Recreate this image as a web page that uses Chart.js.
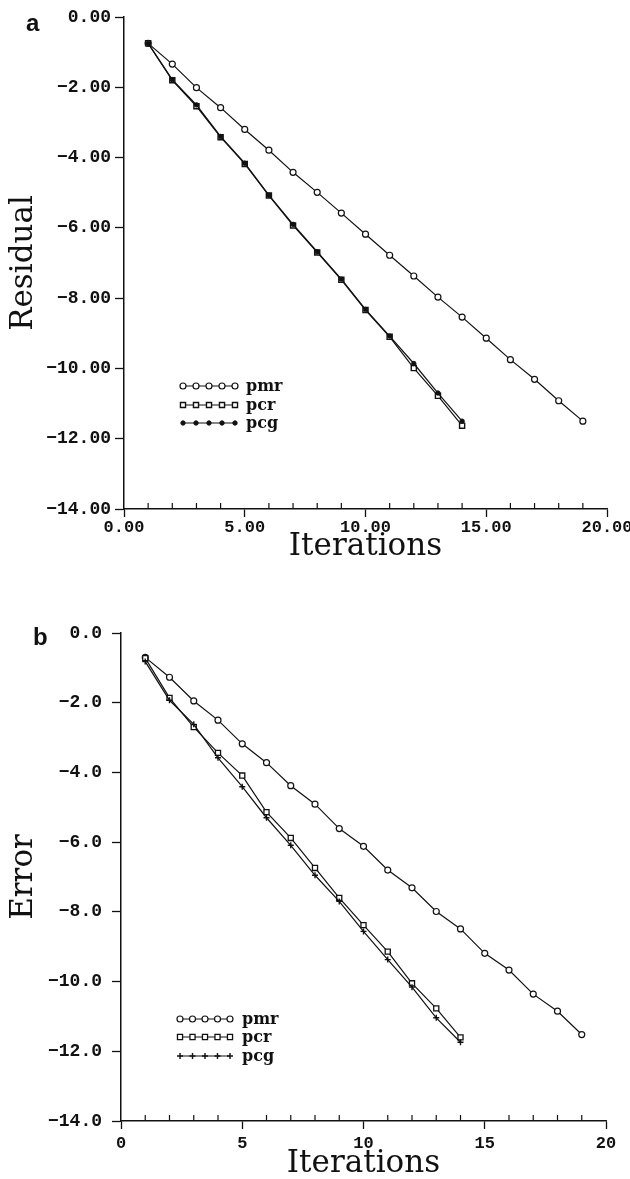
<!DOCTYPE html>
<html>
<head>
<meta charset="utf-8">
<title>Residual and error vs iterations</title>
<script src="https://cdn.jsdelivr.net/npm/chart.js@4.4.1/dist/chart.umd.min.js"></script>
<style>
  html, body { margin: 0; padding: 0; background: #fff; }
  canvas { display: block; }
</style>
</head>
<body>
<canvas id="chart-a" width="630" height="590"></canvas>
<canvas id="chart-b" width="630" height="589"></canvas>
<script>
/* Two stacked convergence plots: (a) residual, (b) error, log scale values
   for pmr / pcr / pcg against iteration count. */

var SERIES_NAMES = ["pmr", "pcr", "pcg"];
var ITER_PMR = [1, 2, 3, 4, 5, 6, 7, 8, 9, 10, 11, 12, 13, 14, 15, 16, 17, 18, 19];
var ITER_PC = [1, 2, 3, 4, 5, 6, 7, 8, 9, 10, 11, 12, 13, 14];

// panel a: residual
var RES_PMR = [-0.75, -1.34, -2.01, -2.58, -3.20, -3.79, -4.42, -4.99, -5.58, -6.18,
               -6.78, -7.37, -7.97, -8.54, -9.14, -9.75, -10.31, -10.92, -11.50];
var RES_PCR = [-0.75, -1.80, -2.54, -3.42, -4.18, -5.08, -5.93, -6.70, -7.48, -8.34,
               -9.10, -9.99, -10.78, -11.63];
var RES_PCG = [-0.75, -1.78, -2.50, -3.40, -4.16, -5.07, -5.90, -6.68, -7.46, -8.32,
               -9.08, -9.86, -10.70, -11.50];

// panel b: error
var ERR_PMR = [-0.70, -1.27, -1.95, -2.50, -3.18, -3.72, -4.38, -4.91, -5.61, -6.12,
               -6.80, -7.31, -7.99, -8.49, -9.19, -9.67, -10.36, -10.85, -11.52];
var ERR_PCR = [-0.72, -1.86, -2.70, -3.44, -4.09, -5.14, -5.88, -6.74, -7.60, -8.38,
               -9.14, -10.05, -10.77, -11.60];
var ERR_PCG = [-0.82, -1.93, -2.62, -3.58, -4.41, -5.30, -6.09, -6.95, -7.70, -8.56,
               -9.37, -10.16, -11.04, -11.74];

var X_TICKS = [0, 5, 10, 15, 20];
var Y_TICKS = [0, -2, -4, -6, -8, -10, -12, -14];

var INK = "#111";
var TICK_FONT = { family: "'Liberation Mono', monospace", size: 18, weight: "bold" };
var XTICK_FONT = { family: "'Liberation Mono', monospace", size: 17, weight: "bold" };
var TITLE_FONT = { family: "'DejaVu Serif', serif", size: 31, weight: "normal", lineHeight: 1 };
var LEGEND_FONT = "bold 16px 'DejaVu Serif', serif";

function pairs(xs, ys) {
  return ys.map(function (y, i) { return { x: xs[i], y: y }; });
}

function fmt(dec) {
  return function (v) {
    var s = Math.abs(v).toFixed(dec);
    return v < 0 ? "\u2212" + s : s;
  };
}

function dataset(name, xs, ys, m, order) {
  return {
    label: name,
    data: pairs(xs, ys),
    borderColor: INK,
    borderWidth: 1.2,
    tension: 0,
    fill: false,
    pointStyle: m.style,
    pointRadius: m.r,
    pointBorderWidth: m.bw,
    pointBackgroundColor: m.fill,
    pointBorderColor: INK,
    order: order
  };
}

// draws minor x ticks, the panel letter and the hand-made legend
function decorPlugin(cfg) {
  return {
    id: "decor",
    afterDraw: function (chart) {
      var c = chart.ctx, xs = chart.scales.x, area = chart.chartArea;
      c.save();
      c.strokeStyle = INK;
      c.lineWidth = 1.2;
      for (var v = 1; v < 20; v++) {
        if (v % 5 === 0) continue;
        var px = xs.getPixelForValue(v);
        c.beginPath(); c.moveTo(px, area.bottom); c.lineTo(px, area.bottom - 6); c.stroke();
      }

      c.fillStyle = INK;
      c.font = "bold 24px 'Liberation Sans', sans-serif";
      c.textBaseline = "alphabetic";
      c.fillText(cfg.letter, cfg.letterX, cfg.letterY);

      cfg.legendY.forEach(function (ly, i) {
        var m = cfg.markers[i];
        c.strokeStyle = INK;
        c.lineWidth = 1.2;
        c.beginPath(); c.moveTo(cfg.legendX0, ly); c.lineTo(cfg.legendX1, ly); c.stroke();
        for (var k = 0; k < 5; k++) {
          var mx = cfg.legendX0 + k * (cfg.legendX1 - cfg.legendX0) / 4;
          c.fillStyle = m.fill;
          c.lineWidth = m.bw;
          Chart.helpers.drawPoint(c, { pointStyle: m.style, radius: m.r, rotation: 0, borderWidth: m.bw }, mx, ly);
        }
        c.fillStyle = INK;
        c.font = LEGEND_FONT;
        c.textBaseline = "middle";
        c.fillText(SERIES_NAMES[i], cfg.legendTextX, ly + 1);
      });
      c.restore();
    }
  };
}

function makeChart(id, cfg) {
  return new Chart(document.getElementById(id).getContext("2d"), {
    type: "line",
    data: {
      datasets: [
        dataset(SERIES_NAMES[0], ITER_PMR, cfg.pmr, cfg.markers[0], 2),
        dataset(SERIES_NAMES[1], ITER_PC, cfg.pcr, cfg.markers[1], 1),
        dataset(SERIES_NAMES[2], ITER_PC, cfg.pcg, cfg.markers[2], 0)
      ]
    },
    options: {
      responsive: false,
      animation: false,
      layout: { padding: cfg.pad },
      plugins: { legend: { display: false }, tooltip: { enabled: false } },
      scales: {
        x: {
          type: "linear", min: 0, max: 20,
          afterBuildTicks: function (s) { s.ticks = X_TICKS.map(function (v) { return { value: v }; }); },
          afterFit: function (s) { s.height = cfg.xHeight; s.paddingLeft = 0; s.paddingRight = 0; },
          ticks: { color: INK, font: XTICK_FONT, padding: cfg.xTickPad, maxRotation: 0, autoSkip: false, callback: fmt(cfg.xDec) },
          grid: { drawOnChartArea: false, drawTicks: true, tickLength: 8, tickColor: INK, tickWidth: 1.3 },
          border: { display: true, color: INK, width: 1.5 },
          title: { display: true, text: "Iterations", color: INK, font: TITLE_FONT, padding: { top: 0, bottom: cfg.xTitlePad } }
        },
        y: {
          min: -14, max: 0,
          afterBuildTicks: function (s) { s.ticks = Y_TICKS.map(function (v) { return { value: v }; }); },
          afterFit: function (s) { s.width = cfg.yWidth; s.paddingTop = 0; s.paddingBottom = 0; },
          ticks: { color: INK, font: TICK_FONT, padding: cfg.yTickPad, autoSkip: false, callback: fmt(cfg.yDec) },
          grid: { drawOnChartArea: false, drawTicks: true, tickLength: 9, tickColor: INK, tickWidth: 1.3 },
          border: { display: true, color: INK, width: 1.5 },
          title: { display: true, text: cfg.yTitle, color: INK, font: TITLE_FONT, padding: { top: 8.5, bottom: 0 } }
        }
      }
    },
    plugins: [decorPlugin(cfg)]
  });
}

var MARKERS_A = [
  { style: "circle", r: 3, fill: "#fff", bw: 1.2 },
  { style: "rect", r: 3.6, fill: "#fff", bw: 1.4 },
  { style: "circle", r: 2.2, fill: INK, bw: 1 }
];
var MARKERS_B = [
  { style: "circle", r: 3, fill: "#fff", bw: 1.2 },
  { style: "rect", r: 3.6, fill: "#fff", bw: 1.3 },
  { style: "cross", r: 3, fill: INK, bw: 1.4 }
];

makeChart("chart-a", {
  pmr: RES_PMR, pcr: RES_PCR, pcg: RES_PCG, markers: MARKERS_A,
  pad: { top: 17, left: 0, right: 23, bottom: 0 },
  yWidth: 124, xHeight: 81, xTickPad: 1, yTickPad: 4, xTitlePad: 27.5,
  xDec: 2, yDec: 2, yTitle: "Residual",
  letter: "a", letterX: 26, letterY: 31,
  legendX0: 183, legendX1: 235, legendTextX: 246, legendY: [386, 405, 423]
});

makeChart("chart-b", {
  pmr: ERR_PMR, pcr: ERR_PCR, pcg: ERR_PCG, markers: MARKERS_B,
  pad: { top: 43, left: 0, right: 24, bottom: 0 },
  yWidth: 121, xHeight: 58, xTickPad: 5, yTickPad: 10, xTitlePad: 0,
  xDec: 0, yDec: 1, yTitle: "Error",
  letter: "b", letterX: 33, letterY: 55,
  legendX0: 180, legendX1: 230, legendTextX: 242, legendY: [429, 447, 466]
});
</script>
</body>
</html>
